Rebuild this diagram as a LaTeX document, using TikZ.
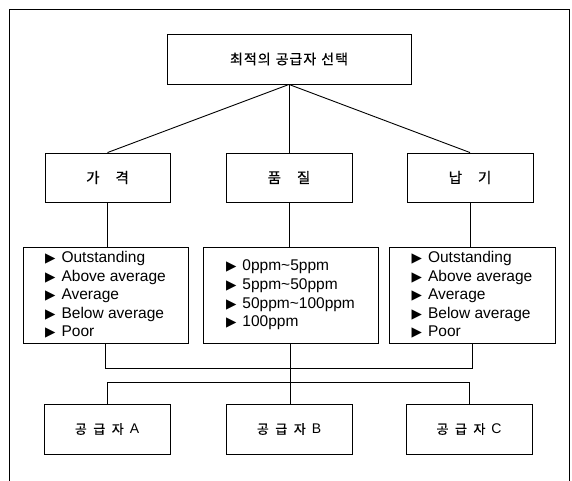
\documentclass[tikz,border=0pt]{standalone}
\usepackage{fontspec}
\setmainfont{Liberation Sans}
\newfontfamily\krfont[FakeBold=0.6]{Noto Sans CJK KR}
\newfontfamily\symfont{DejaVu Sans}
\newcommand{\bul}{{\symfont\fontsize{13.5}{13.5}\selectfont ▶}\hspace{6pt}}
\begin{document}
\begin{tikzpicture}[x=1pt,y=-1pt,
  box/.style={draw, line width=0.9pt, inner sep=0pt, align=center},
  listbox/.style={draw, line width=0.9pt, inner sep=0pt, align=left, minimum height=96pt,
    font=\fontsize{15.5}{18.6}\selectfont},
  conn/.style={line width=0.9pt}]
\useasboundingbox (0,0) rectangle (572,480);
\draw[line width=0.9pt] (9.5,490) -- (9.5,9.5) -- (569.5,9.5) -- (569.5,490);

\node[box, minimum width=244pt, minimum height=50pt,
  font=\krfont\fontsize{14}{14}\selectfont\addfontfeature{LetterSpace=7}] (top) at (289,59)
  {최적의\hspace{5pt}공급자\hspace{5pt}선택};

\node[box, minimum width=125pt, minimum height=49pt, font=\krfont\fontsize{14.5}{14.5}\selectfont]
  (g) at (107.5,177.5) {가\hspace{16pt}격};
\node[box, minimum width=126pt, minimum height=49pt, font=\krfont\fontsize{14.5}{14.5}\selectfont]
  (q) at (289,177.5) {품\hspace{16pt}질};
\node[box, minimum width=126pt, minimum height=49pt, font=\krfont\fontsize{14.5}{14.5}\selectfont]
  (d) at (470,177.5) {납\hspace{16pt}기};

\node[listbox, minimum width=165pt] (lg) at (105.5,295)
  {\bul Outstanding\\\bul Above average\\\bul Average\\\bul Below average\\\bul Poor};
\node[listbox, minimum width=175pt] (lq) at (290.5,295)
  {\bul 0ppm\textasciitilde 5ppm\\\bul 5ppm\textasciitilde 50ppm\\\bul 50ppm\textasciitilde 100ppm\\\bul 100ppm};
\node[listbox, minimum width=166pt] (ld) at (472,295)
  {\bul Outstanding\\\bul Above average\\\bul Average\\\bul Below average\\\bul Poor};

\node[box, minimum width=126pt, minimum height=50pt, font=\krfont\fontsize{13}{13}\selectfont]
  (sa) at (107,429) {공\hspace{6.5pt}급\hspace{6.5pt}자\hspace{6pt}{\rmfamily\fontsize{14}{14}\selectfont A}};
\node[box, minimum width=126pt, minimum height=50pt, font=\krfont\fontsize{13}{13}\selectfont]
  (sb) at (289,429) {공\hspace{6.5pt}급\hspace{6.5pt}자\hspace{6pt}{\rmfamily\fontsize{14}{14}\selectfont B}};
\node[box, minimum width=126pt, minimum height=50pt, font=\krfont\fontsize{13}{13}\selectfont]
  (sc) at (469,429) {공\hspace{6.5pt}급\hspace{6.5pt}자\hspace{6pt}{\rmfamily\fontsize{14}{14}\selectfont C}};

\coordinate (busA) at (0,368);
\coordinate (busB) at (0,382);

\draw[conn] (top.south) -- (g.north);
\draw[conn] (top.south) -- (q.north);
\draw[conn] (top.south) -- (d.north);
\draw[conn] (g.south) -- (g.south |- lg.north);
\draw[conn] (q.south) -- (q.south |- lq.north);
\draw[conn] (d.south) -- (d.south |- ld.north);
\draw[conn] (lg.south) -- (lg.south |- busA) -| (ld.south);
\draw[conn] (lq.south) -- (lq.south |- sb.north);
\draw[conn] (sa.north) -- (sa.north |- busB) -| (sc.north);
\end{tikzpicture}
\end{document}
